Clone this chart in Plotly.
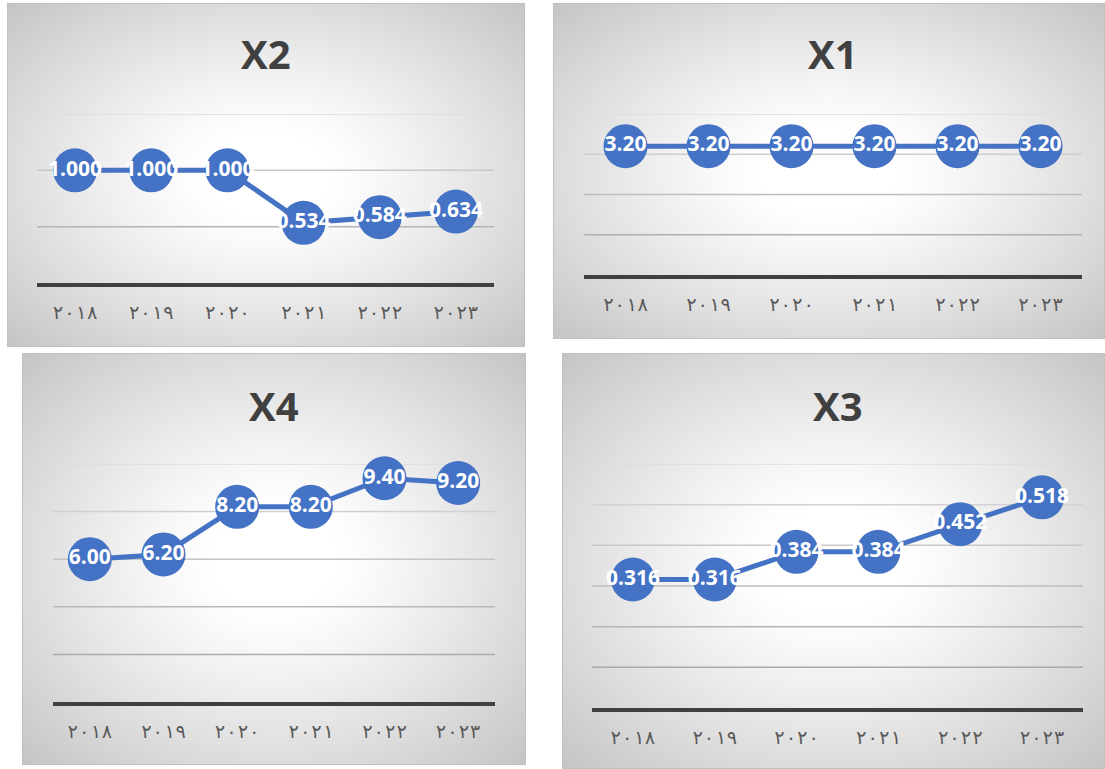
import base64
import struct
import zlib

import numpy as np
import plotly.graph_objects as go

# ---- data -------------------------------------------------------------
years = ["٢٠١٨", "٢٠١٩", "٢٠٢٠", "٢٠٢١", "٢٠٢٢", "٢٠٢٣"]

x2_values = [1.000, 1.000, 1.000, 0.534, 0.584, 0.634]
x1_values = [3.20, 3.20, 3.20, 3.20, 3.20, 3.20]
x4_values = [6.00, 6.20, 8.20, 8.20, 9.40, 9.20]
x3_values = [0.316, 0.316, 0.384, 0.384, 0.452, 0.518]

x2_ticks = [0.5, 1.0, 1.5]
x1_ticks = [1, 2, 3, 4]
x4_ticks = [2, 4, 6, 8, 10]
x3_ticks = [0.1, 0.2, 0.3, 0.4, 0.5, 0.6]

# ---- layout of the four chart cards (pixels) --------------------------
W, H = 1105, 769
BLUE = "#4472C4"

panels = [
    # title, values, gridline values, number format, card box, plot box
    dict(title="X2", values=x2_values, ticks=x2_ticks, fmt=".3f",
         card=(7, 3, 524, 346), plot=(37, 114, 494, 283), title_y=53),
    dict(title="X1", values=x1_values, ticks=x1_ticks, fmt=".2f",
         card=(553, 3, 1104, 338), plot=(584, 114, 1082, 275), title_y=53),
    dict(title="X4", values=x4_values, ticks=x4_ticks, fmt=".2f",
         card=(22, 353, 525, 764), plot=(53, 464, 495, 702), title_y=405),
    dict(title="X3", values=x3_values, ticks=x3_ticks, fmt=".3f",
         card=(562, 353, 1104, 768), plot=(592, 464, 1083, 708), title_y=405),
]


def png_data_uri(gray):
    """Encode a 2-D uint8 array as a grayscale PNG data URI."""
    h, w = gray.shape
    raw = b"".join(b"\x00" + gray[i].tobytes() for i in range(h))

    def chunk(tag, data):
        body = tag + data
        return (struct.pack(">I", len(data)) + body
                + struct.pack(">I", zlib.crc32(body) & 0xFFFFFFFF))

    png = (b"\x89PNG\r\n\x1a\n"
           + chunk(b"IHDR", struct.pack(">IIBBBBB", w, h, 8, 0, 0, 0, 0))
           + chunk(b"IDAT", zlib.compress(raw, 9))
           + chunk(b"IEND", b""))
    return "data:image/png;base64," + base64.b64encode(png).decode()


# Page backdrop: white page with radial-gradient cards and thin borders
page = np.full((H, W), 255, dtype=np.uint8)
yy, xx = np.mgrid[0:H, 0:W]
for p in panels:
    x0, y0, x1, y1 = p["card"]
    cx, cy = (x0 + x1) / 2, (y0 + y1) / 2
    dx = (xx[y0:y1 + 1, x0:x1 + 1] - cx) / ((x1 - x0) / 2)
    dy = (yy[y0:y1 + 1, x0:x1 + 1] - cy) / ((y1 - y0) / 2)
    r = np.sqrt(dx ** 2 + dy ** 2) / np.sqrt(2)
    t = np.clip((r - 0.18) / 0.82, 0, 1) ** 1.15
    shade = 255 - 58 * t
    page[y0:y1 + 1, x0:x1 + 1] = shade.astype(np.uint8)
    border = 192
    page[y0, x0:x1 + 1] = border
    page[y1, x0:x1 + 1] = border
    page[y0:y1 + 1, x0] = border
    page[y0:y1 + 1, x1] = border

fig = go.Figure()
layout_axes = {}
shapes = []
annotations = []

for i, p in enumerate(panels, start=1):
    suffix = "" if i == 1 else str(i)
    xa, ya = "x" + suffix, "y" + suffix
    px0, py0, px1, py1 = p["plot"]
    ymax = p["ticks"][-1]

    fig.add_trace(go.Scatter(
        x=years, y=p["values"], xaxis=xa, yaxis=ya,
        mode="lines+markers+text",
        line=dict(color=BLUE, width=5),
        marker=dict(color=BLUE, size=44, line=dict(width=0)),
        texttemplate="%{y:" + p["fmt"] + "}",
        textposition="middle center",
        textfont=dict(family="Open Sans", size=21, color="white", weight="bold"),
        cliponaxis=False,
        showlegend=False,
        hoverinfo="skip",
    ))

    layout_axes["xaxis" + suffix] = dict(
        domain=[px0 / W, px1 / W], range=[-0.5, 5.5], anchor=ya,
        type="category", showgrid=False, zeroline=False,
        showline=True, linecolor="#404040", linewidth=4,
        ticks="", ticklabelstandoff=9,
        tickfont=dict(family="DejaVu Sans Mono", size=19, color="#595959"),
        fixedrange=True,
    )
    layout_axes["yaxis" + suffix] = dict(
        domain=[1 - py1 / H, 1 - py0 / H], range=[0, ymax], anchor=xa,
        showgrid=False, zeroline=False, showline=False,
        showticklabels=False, ticks="", fixedrange=True,
    )

    # graded gridlines: light at the top, darker toward the baseline
    for v in p["ticks"]:
        frac = v / ymax
        g = int(round(160 + 60 * frac))
        shapes.append(dict(
            type="line", xref=f"{xa} domain", yref=ya,
            x0=0, x1=1, y0=v, y1=v, layer="below",
            line=dict(color=f"rgb({g},{g},{g})", width=1.5),
        ))

    annotations.append(dict(
        text=f"<b>{p['title']}</b>", showarrow=False,
        xref=f"{xa} domain", x=0.5, xanchor="center",
        yref="paper", y=1 - p["title_y"] / H, yanchor="middle",
        font=dict(family="Open Sans", size=40, color="#404040"),
    ))

fig.update_layout(
    width=W, height=H, autosize=False,
    margin=dict(l=0, r=0, t=0, b=0, pad=0),
    paper_bgcolor="white", plot_bgcolor="rgba(0,0,0,0)",
    images=[dict(
        source=png_data_uri(page), xref="paper", yref="paper",
        x=0, y=1, sizex=1, sizey=1, xanchor="left", yanchor="top",
        sizing="stretch", layer="below",
    )],
    shapes=shapes,
    annotations=annotations,
    **layout_axes,
)

fig.write_html("out.html")
